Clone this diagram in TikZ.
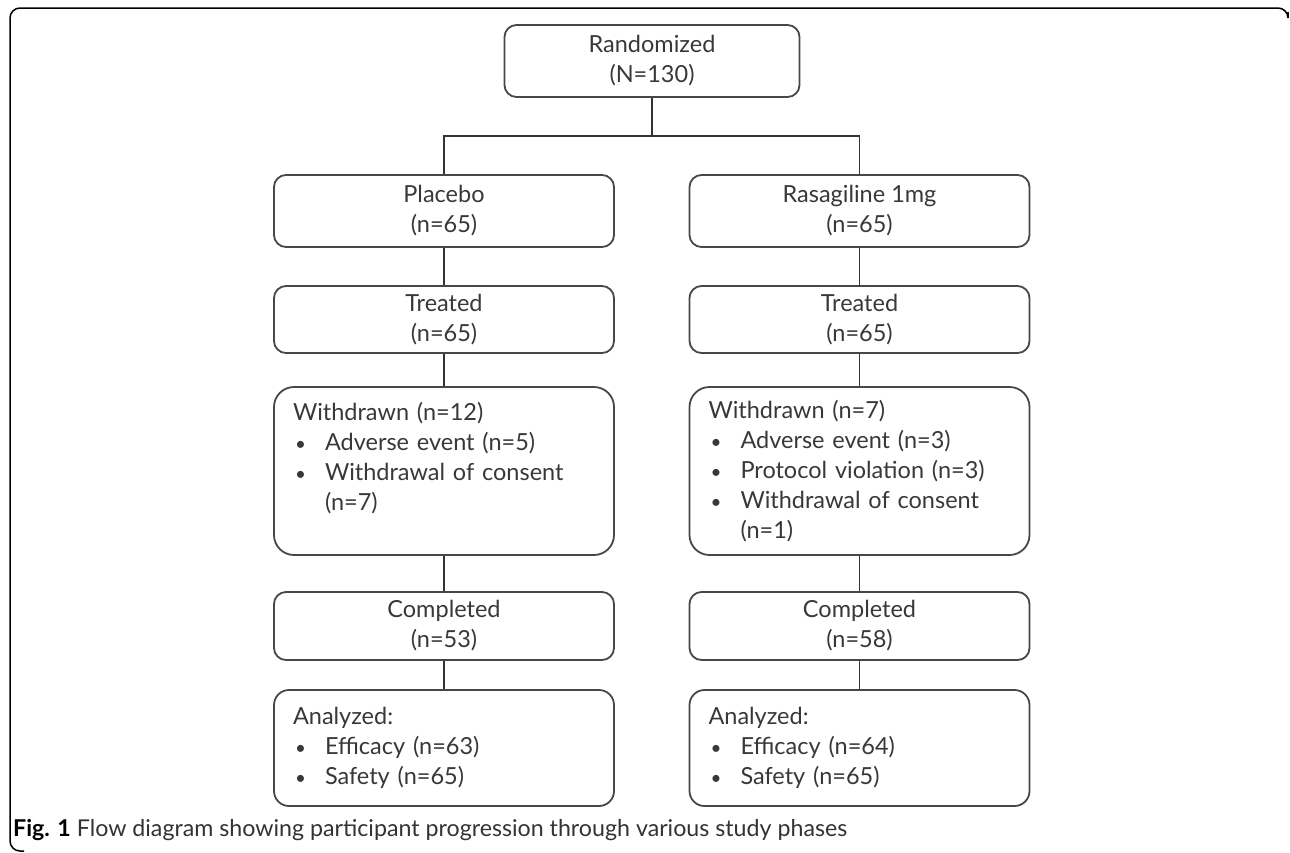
\documentclass[tikz,border=0pt]{standalone}
\usepackage{fontspec}
\setmainfont{Lato}
\usetikzlibrary{positioning}
\colorlet{boxline}{black!72}
\colorlet{boxtext}{black!78}
\newcommand{\itm}[1]{\makebox[32pt][l]{\hspace{2pt}\scalebox{0.8}{\textbullet}}#1}

\begin{document}
\begin{tikzpicture}[
  x=1pt,y=-1pt,
  box/.style = {draw=boxline,line width=1.8pt,rounded corners=12pt,text=boxtext,
    font=\fontsize{23.5}{30}\selectfont,align=center,
    minimum width=340pt,minimum height=72pt,inner sep=0pt},
  listbox/.style = {box,align=left,text width=302pt,inner xsep=19pt,rounded corners=20pt},
  link/.style = {draw=black!80,line width=1.6pt}
  ]
  \useasboundingbox (0,0) rectangle (1290,852);
  % Frame
  \draw[line width=1.5pt,rounded corners=10pt] (1288,12) -- (1288,8) -- (10,8) -- (10,851) -- (24,851);
  % Boxes
  \node[box,minimum width=295pt] (rand) at (652,61) {Randomized\\(N=130)};
  \node[box] (plac) at (444,211) {Placebo\\(n=65)};
  \node[box] (rasa) at (859.5,211) {Rasagiline 1mg\\(n=65)};
  \node[box,minimum height=67pt] (treatL) at (444,319.5) {Treated\\(n=65)};
  \node[box,minimum height=67pt] (treatR) at (859.5,319.5) {Treated\\(n=65)};
  \node[listbox,minimum height=168pt] (wdrawL) at (444,471)
    {Withdrawn (n=12)\\\itm{Adverse event (n=5)}\\\itm{Withdrawal of consent}\\\hspace*{32pt}(n=7)\\\mbox{}};
  \node[listbox,minimum height=168pt] (wdrawR) at (859.5,471)
    {Withdrawn (n=7)\\\itm{Adverse event (n=3)}\\\itm{Protocol violation (n=3)}\\\itm{Withdrawal of consent}\\\hspace*{32pt}(n=1)};
  \node[box,minimum height=68pt] (complL) at (444,626) {Completed\\(n=53)};
  \node[box,minimum height=68pt] (complR) at (859.5,626) {Completed\\(n=58)};
  \node[listbox,minimum height=116pt,rounded corners=15pt] (analL) at (444,748)
    {Analyzed:\\\itm{Efficacy (n=63)}\\\itm{Safety (n=65)}};
  \node[listbox,minimum height=116pt,rounded corners=15pt] (analR) at (859.5,748)
    {Analyzed:\\\itm{Efficacy (n=64)}\\\itm{Safety (n=65)}};
  % Links
  \coordinate (split) at (652,136);
  \draw[link] (rand.south) -- (split);
  \draw[link] (plac.north) |- (split) -| (rasa.north);
  \foreach \a/\b in {plac/treatL,treatL/wdrawL,wdrawL/complL,complL/analL,
                     rasa/treatR,treatR/wdrawR,wdrawR/complR,complR/analR}
    \draw[link] (\a) -- (\b);
  % Caption
  \node[anchor=west,inner sep=0pt,font=\fontsize{23.2}{27}\selectfont,text=black!80] (caption)
    at (13,830) {\textcolor{black}{\textbf{Fig. 1}} Flow diagram showing participant progression through various study phases};
\end{tikzpicture}
\end{document}
